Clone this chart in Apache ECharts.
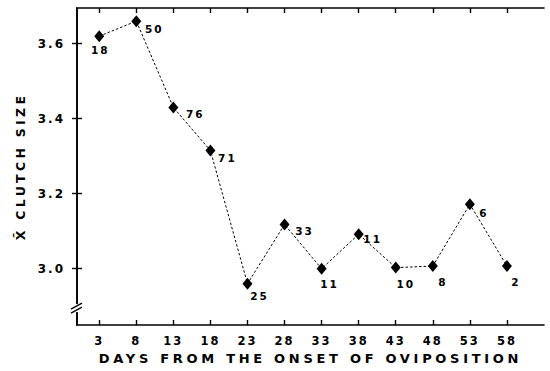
<!DOCTYPE html>
<html><head><meta charset="utf-8">
<script src="https://cdn.jsdelivr.net/npm/echarts@6/dist/echarts.min.js"></script>
<style>
html,body{margin:0;padding:0;background:#fff}
#c{width:550px;height:371px}
#c text{letter-spacing:2px}
#c text[style*="13px"]{letter-spacing:3.7px}
#c text[style*="12.5px"]{letter-spacing:3.3px}
</style>
</head><body><div id="c"></div><script>
// ---- data ----
const days = [3, 8, 13, 18, 23, 28, 33, 38, 43, 48, 53, 58];
const clutchSize = [3.62, 3.66, 3.43, 3.315, 2.96, 3.118, 3.0, 3.092, 3.003, 3.007, 3.172, 3.007];
const sampleSizes = [18, 50, 76, 71, 25, 33, 11, 11, 10, 8, 6, 2];
const xTicks = [3, 8, 13, 18, 23, 28, 33, 38, 43, 48, 53, 58];
const yTicks = [3.0, 3.2, 3.4, 3.6];
const xTitle = 'DAYS FROM THE ONSET OF OVIPOSITION';
const yTitle = 'X\u0304 CLUTCH SIZE';

// ---- label placement (style only) ----
const labelOffsets = [[1,14],[18,8],[22,7],[17,7],[12,12],[20,7],[8,15],[14,5],[10,16],[10,16],[14,9],[9,16]];

const FONT = 'DejaVu Sans';
const chart = echarts.init(document.getElementById('c'), null, {renderer: 'svg'});
const xMin = 0, xMax = 63, yMin = 2.85, yMax = 3.695;
const axisLine = {show: true, lineStyle: {color: '#000', width: 1.6}};

chart.setOption({
  animation: false,
  backgroundColor: '#fff',
  grid: {left: 77, right: 6, top: 8, bottom: 46, containLabel: false},
  xAxis: [{
    type: 'value', min: xMin, max: xMax, position: 'bottom',
    axisLine: axisLine,
    axisTick: {show: true, inside: true, length: 5, customValues: xTicks, lineStyle: {color: '#000', width: 1.4}},
    axisLabel: {show: true, customValues: xTicks, margin: 10, color: '#000', fontFamily: FONT, fontWeight: 'bold', fontSize: 11.5},
    splitLine: {show: false},
    name: xTitle, nameLocation: 'middle', nameGap: 18,
    nameTextStyle: {color: '#000', fontFamily: FONT, fontWeight: 'bold', fontSize: 13}
  }, {
    type: 'value', min: xMin, max: xMax, position: 'top',
    axisLine: axisLine,
    axisTick: {show: true, inside: true, length: 5, customValues: xTicks, lineStyle: {color: '#000', width: 1.4}},
    axisLabel: {show: false},
    splitLine: {show: false}
  }],
  yAxis: [{
    type: 'value', min: yMin, max: yMax, position: 'left',
    axisLine: axisLine,
    axisTick: {show: true, inside: true, length: 5, customValues: yTicks, lineStyle: {color: '#000', width: 1.4}},
    axisLabel: {show: true, customValues: yTicks, margin: 12, color: '#000', fontFamily: FONT, fontWeight: 'bold', fontSize: 12,
      formatter: v => Number(v).toFixed(1)},
    splitLine: {show: false},
    name: yTitle, nameLocation: 'middle', nameGap: 50, nameRotate: 90,
    nameTextStyle: {color: '#000', fontFamily: FONT, fontWeight: 'bold', fontSize: 12.5}
  }, {
    type: 'value', min: yMin, max: yMax, position: 'right',
    axisLine: axisLine,
    axisTick: {show: true, inside: true, length: 5, customValues: yTicks, lineStyle: {color: '#000', width: 1.4}},
    axisLabel: {show: false},
    splitLine: {show: false}
  }],
  series: [{
    type: 'line',
    xAxisIndex: 0, yAxisIndex: 0,
    data: days.map((d, i) => ({value: [d, clutchSize[i]], label: {offset: labelOffsets[i]}})),
    symbol: 'diamond', symbolSize: [10, 12],
    itemStyle: {color: '#000'},
    lineStyle: {color: '#000', width: 1, type: [2.5, 2]},
    label: {
      show: true, position: 'inside', color: '#000', fontFamily: FONT, fontWeight: 'bold', fontSize: 10.5,
      formatter: p => String(sampleSizes[p.dataIndex])
    },
    emphasis: {disabled: true}
  }]
});

// axis break mark on the left axis
const bp = chart.convertToPixel({xAxisIndex: 0, yAxisIndex: 0}, [xMin, 2.895]);
chart.setOption({
  graphic: [
    {type: 'rect', shape: {x: bp[0] - 3, y: bp[1] - 4, width: 6, height: 8}, style: {fill: '#fff'}, z: 100},
    {type: 'line', shape: {x1: bp[0] - 6, y1: bp[1] + 1, x2: bp[0] + 5, y2: bp[1] - 5}, style: {stroke: '#000', lineWidth: 1.3}, z: 101},
    {type: 'line', shape: {x1: bp[0] - 6, y1: bp[1] + 5, x2: bp[0] + 5, y2: bp[1] - 1}, style: {stroke: '#000', lineWidth: 1.3}, z: 101}
  ]
});
</script></body></html>
